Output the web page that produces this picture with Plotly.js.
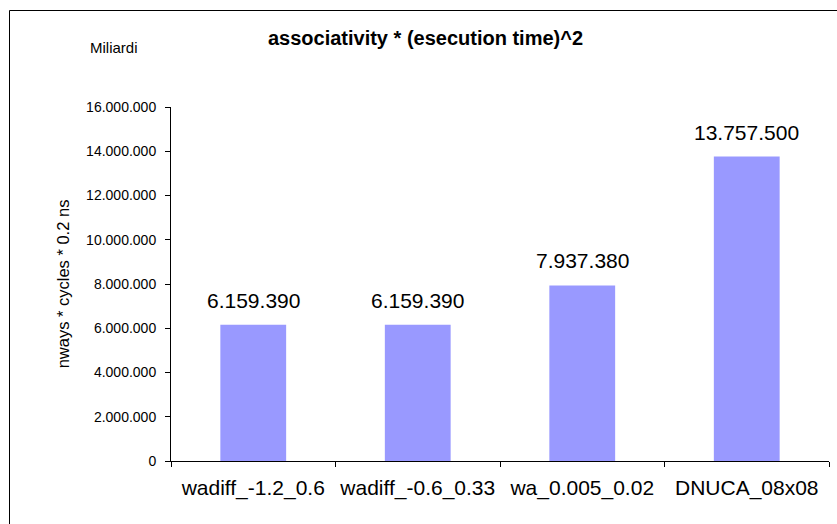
<!DOCTYPE html>
<html>
<head>
<meta charset="utf-8">
<script src="https://cdn.plot.ly/plotly-3.0.1.min.js"></script>
<style>html,body{margin:0;padding:0;background:#fff;}#chart{width:837px;height:524px;}</style>
</head>
<body>
<div id="chart"></div>
<script>
const categories = ["wadiff_-1.2_0.6", "wadiff_-0.6_0.33", "wa_0.005_0.02", "DNUCA_08x08"];
const values = [6159390, 6159390, 7937380, 13757500];
const tickValues = [0, 2000000, 4000000, 6000000, 8000000, 10000000, 12000000, 14000000, 16000000];

const font = "Arial, 'Liberation Sans', sans-serif";
const trace = {
  type: 'bar',
  x: categories,
  y: values,
  marker: {color: '#9999FF', line: {width: 0}},
  width: 0.4,
  hoverinfo: 'skip'
};
const labelAnnotations = categories.map((c, i) => ({
  x: c, y: values[i], xref: 'x', yref: 'y',
  text: values[i].toLocaleString('de-DE'),
  showarrow: false, yanchor: 'bottom', yshift: 11,
  font: {family: font, size: 21, color: '#000'}
}));

const layout = {
  width: 837, height: 524,
  margin: {l: 171, r: 8, t: 107, b: 63},
  paper_bgcolor: '#fff', plot_bgcolor: '#fff',
  separators: ',.',
  showlegend: false,
  font: {family: font, color: '#000'},
  title: {text: '<b>associativity * (esecution time)^2</b>', font: {family: font, size: 20, color: '#000'},
          x: 425.5 / 837, xanchor: 'center', y: 1 - 38 / 524, yanchor: 'middle'},
  xaxis: {
    type: 'category',
    showline: true, linecolor: '#000', linewidth: 1,
    ticks: 'outside', tickson: 'boundaries', ticklen: 5, tickcolor: '#000',
    tickfont: {family: font, size: 21, color: '#000'},
    tickangle: 0,
    ticklabelstandoff: 8,
    showgrid: false, zeroline: false,
    range: [-0.5, 3.5]
  },
  yaxis: {
    range: [0, 16000000],
    tickvals: tickValues,
    tickformat: ',d',
    showline: true, linecolor: '#000', linewidth: 1,
    ticks: 'outside', ticklen: 5, tickcolor: '#000',
    tickfont: {family: font, size: 14, color: '#000'},
    ticklabelstandoff: 6,
    showgrid: false, zeroline: false,
    title: {text: 'nways * cycles * 0.2 ns', font: {family: font, size: 16.5, color: '#000'}, standoff: 12}
  },
  annotations: labelAnnotations.concat([
    {xref: 'paper', yref: 'paper', x: (114 - 171) / 658, y: (461 - 47) / 354,
     text: 'Miliardi', showarrow: false, xanchor: 'center', yanchor: 'middle',
     font: {family: font, size: 15, color: '#000'}}
  ]),
  shapes: [
    {type: 'rect', xref: 'paper', yref: 'paper',
     x0: (9.5 - 171) / 658, x1: (845 - 171) / 658,
     y0: (461 - 535) / 354, y1: (461 - 10.5) / 354,
     line: {color: '#000', width: 1}, fillcolor: 'rgba(0,0,0,0)', layer: 'below'}
  ]
};

Plotly.newPlot('chart', [trace], layout, {displayModeBar: false, staticPlot: true});
</script>
</body>
</html>
